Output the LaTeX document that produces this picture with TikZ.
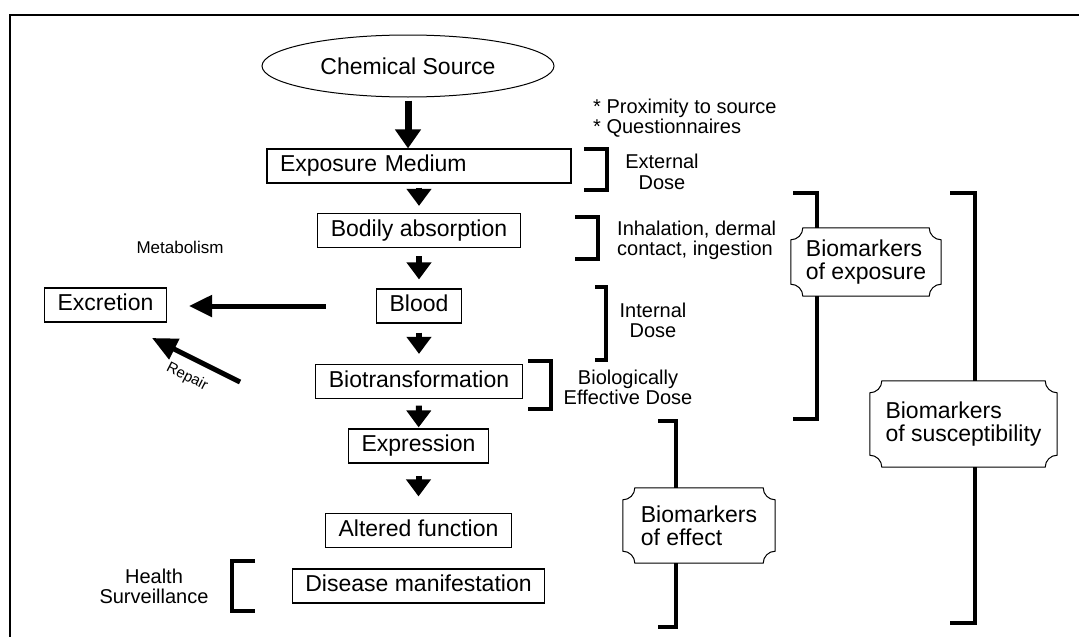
\documentclass[tikz,border=0pt]{standalone}
\usepackage{fontspec}
\setmainfont{Liberation Sans}
\usetikzlibrary{shapes.geometric, arrows.meta, positioning}

\newcommand{\mainsize}{\fontsize{23}{23}\selectfont}
\newcommand{\notesize}{\fontsize{20}{20.5}\selectfont}
\newcommand{\notchframe}[1]{%
  \draw[line width=1pt] ([xshift=12pt]#1.north west) -- ([xshift=-12pt]#1.north east)
    arc[start angle=180, end angle=270, radius=12pt] -- ([yshift=12pt]#1.south east)
    arc[start angle=90, end angle=180, radius=12pt] -- ([xshift=12pt]#1.south west)
    arc[start angle=0, end angle=90, radius=12pt] -- ([yshift=-12pt]#1.north west)
    arc[start angle=270, end angle=360, radius=12pt] -- cycle;}

\begin{document}
\begin{tikzpicture}[
    x=1pt, y=-1pt,
    box/.style={rectangle, draw, line width=1.2pt, inner xsep=13pt, inner ysep=3pt, minimum height=34pt, text height=16.5pt, text depth=5pt, font=\mainsize},
    src/.style={ellipse, draw, line width=1pt, minimum width=292pt, minimum height=62pt, font=\mainsize},
    flow/.style={-{Triangle[width=24pt,length=17pt]}, line width=6pt},
    sidearrow/.style={-{Triangle[width=21pt,length=23pt]}, line width=5pt},
    brace/.style={line width=3.5pt},
    note/.style={font=\notesize, align=center, inner sep=0pt},
    tag/.style={fill=white, align=left, font=\mainsize, inner sep=0pt}
]
\useasboundingbox (0,0) rectangle (1079,637);
\draw[line width=2pt] (10,637) -- (10,15) -- (1079,15);

\node[src] (source) at (408,66) {Chemical Source};
\node[box, text width=278pt, align=left] (medium) at (419,166) {Exposure Medium};
\node[box] (absorb) at (419,230.5) {Bodily absorption};
\node[box] (blood) at (419,306) {Blood};
\node[box] (excretion) at (105.5,305) {Excretion};
\node[box] (biotrans) at (419,381.5) {Biotransformation};
\node[box] (expression) at (418.5,446) {Expression};
\node[box] (altered) at (418.5,530.5) {Altered function};
\node[box] (disease) at (418.5,586) {Disease manifestation};

\draw[flow, line width=7pt, -{Triangle[width=25pt,length=19pt]}, shorten <=3pt] (source.south) -- (source.south |- medium.north);
\draw[flow, shorten <=4pt, shorten >=7pt] (medium) -- (absorb);
\draw[flow, shorten <=8pt, shorten >=9pt] (absorb) -- (blood);
\draw[flow, shorten <=9pt, shorten >=10pt] (blood) -- (biotrans);
\draw[flow, shorten <=6.5pt, shorten >=1pt] (biotrans) -- (expression);
\draw[flow, shorten <=12pt, shorten >=16.5pt] (expression) -- (altered);

\draw[sidearrow, shorten <=50pt, shorten >=22pt] (blood.west) -- (blood.west -| excretion.east);
\coordinate (repairtail) at (240,382);
\coordinate (repairtip) at (152,338);
\draw[sidearrow, -{Triangle[width=22pt,length=25pt]}] (repairtail) -- (repairtip);
\node[font=\fontsize{15}{15}\selectfont, rotate=-27] (repair) at (187,377) {Repair};

\foreach \xa/\xb/\ya/\yb in {584/607/149/190, 575/598/217/259, 595/606/287/360, 528/551/361/409,
    793/817/193/419, 950/975/193/623, 658/676/421/627, 255/232/561/611}
  \draw[brace] (\xa,\ya) -- (\xb,\ya) -- (\xb,\yb) -- (\xa,\yb);

\node[note, anchor=west, align=left] (hints) at (593,118) {* Proximity to source\\* Questionnaires};
\node[note] (external) at (662,172) {External\\Dose};
\node[note, anchor=west, align=left] (routes) at (617,240.5) {Inhalation, dermal\\contact, ingestion};
\node[note] (internal) at (653,320.5) {Internal\\Dose};
\node[note] (effective) at (628,387.5) {Biologically\\Effective Dose};
\node[note, font=\fontsize{17}{17}\selectfont] (metabolism) at (180,247) {Metabolism};
\node[note] (health) at (154,586.5) {Health\\Surveillance};

\node[tag, minimum width=150pt, minimum height=68pt] (exposuretag) at (866,262) {Biomarkers\\of exposure};
\node[tag, minimum width=152pt, minimum height=75pt] (effecttag) at (699,525.5) {Biomarkers\\of effect};
\node[tag, minimum width=187pt, minimum height=86pt] (suscepttag) at (963.5,424) {Biomarkers\\of susceptibility};
\foreach \t in {exposuretag, effecttag, suscepttag}
  \notchframe{\t};

\end{tikzpicture}
\end{document}
